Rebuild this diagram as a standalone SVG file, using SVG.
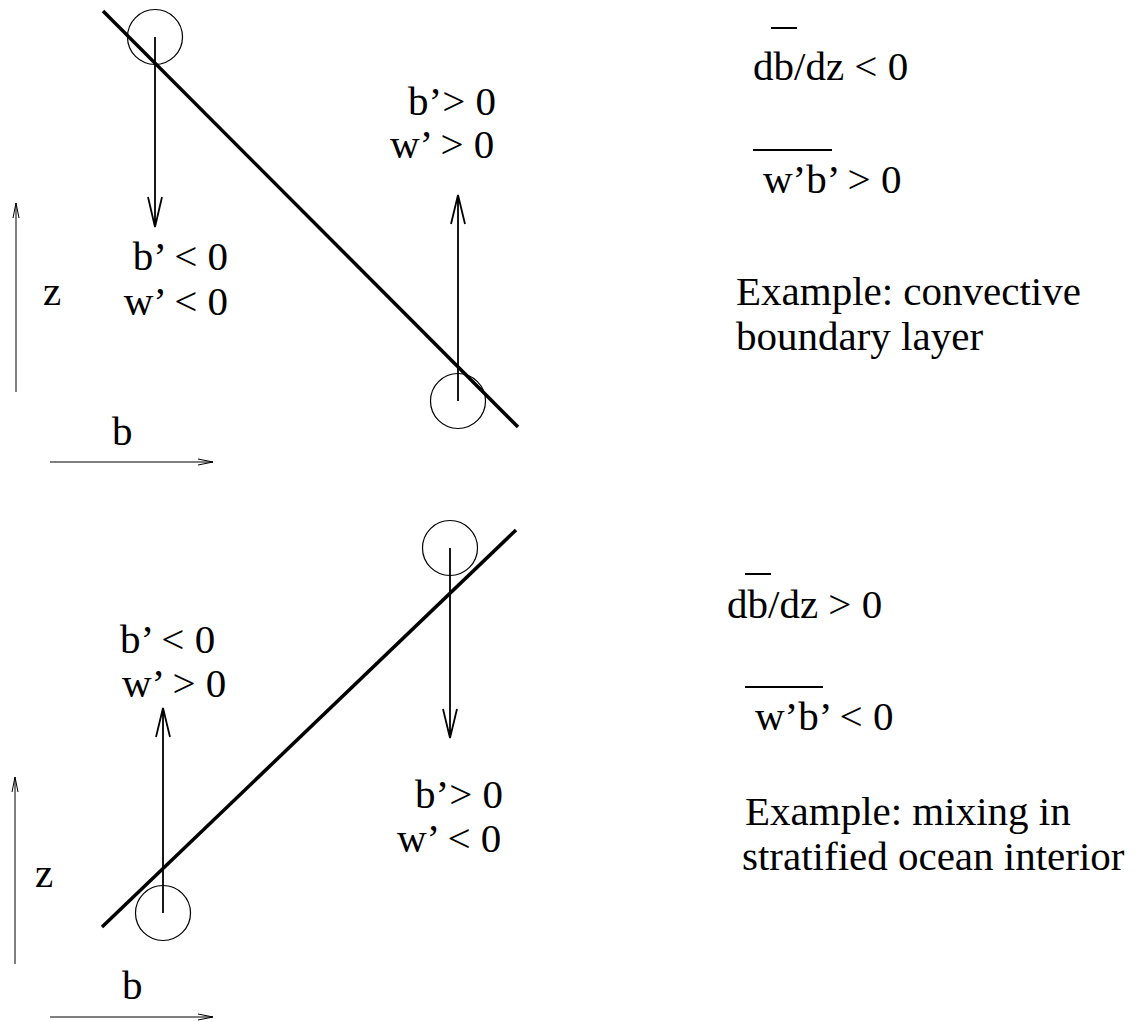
<svg xmlns="http://www.w3.org/2000/svg" width="1140" height="1022" viewBox="0 0 1140 1022">
<style>
text{font-family:"Liberation Serif","Times New Roman",serif;font-size:41px;fill:#000}
.thick{stroke:#000;stroke-width:3.5;fill:none}
.arr{stroke:#000;stroke-width:1.8;fill:none}
.ax{stroke:#000;stroke-width:1;fill:none}
.circ{stroke:#000;stroke-width:1.2;fill:none}
.bar{stroke:#000;stroke-width:2;fill:none}
</style>
<rect width="1140" height="1022" fill="#fff"/>
<g id="top-panel">
  <line class="thick" x1="103" y1="11" x2="518" y2="427"/>
  <circle class="circ" cx="155" cy="37" r="27.5"/>
  <circle class="circ" cx="458" cy="401" r="27.5"/>
</g>
<g id="connectors">
  <path class="arr" d="M155 37V227M148 197L155 227L162 197"/>
  <path class="arr" d="M458 401V195M451 224L458 195L465 224"/>
  <path class="ax" d="M16 392V203M13 218L16 203L19 218"/>
  <path class="ax" d="M50 462H213M198 459L213 462L198 465"/>
  <path class="arr" d="M450 548V738M443 709L450 738L457 709"/>
  <path class="arr" d="M163 913V708M156 737L163 708L170 737"/>
  <path class="ax" d="M15 964V777M12 792L15 777L18 792"/>
  <path class="ax" d="M50 1017H213M198 1014L213 1017L198 1020"/>
</g>
<g id="top-labels">
  <text x="228" y="270" text-anchor="end">b’ &lt; 0</text>
  <text x="228" y="315" text-anchor="end">w’ &lt; 0</text>
  <text x="43" y="305">z</text>
  <text x="112" y="445">b</text>
  <text x="408" y="115">b’&gt; 0</text>
  <text x="390" y="158">w’ &gt; 0</text>
</g>
<g id="top-right">
  <line class="bar" x1="771" y1="28" x2="797" y2="28"/>
  <text x="753" y="80">db/dz &lt; 0</text>
  <line class="bar" x1="753" y1="150" x2="832" y2="150"/>
  <text x="763" y="193">w’b’ &gt; 0</text>
  <text x="736" y="305">Example: convective</text>
  <text x="736" y="350">boundary layer</text>
</g>
<g id="bottom-panel">
  <line class="thick" x1="102" y1="927" x2="516" y2="530"/>
  <circle class="circ" cx="450" cy="548" r="27.5"/>
  <circle class="circ" cx="163" cy="913" r="27.5"/>
</g>
<g id="bottom-labels">
  <text x="120" y="653">b’ &lt; 0</text>
  <text x="122" y="697">w’ &gt; 0</text>
  <text x="415" y="808">b’&gt; 0</text>
  <text x="397" y="852">w’ &lt; 0</text>
  <text x="35" y="887">z</text>
  <text x="122" y="999">b</text>
</g>
<g id="bottom-right">
  <line class="bar" x1="745" y1="574" x2="771" y2="574"/>
  <text x="727" y="618">db/dz &gt; 0</text>
  <line class="bar" x1="745" y1="687" x2="823" y2="687"/>
  <text x="755" y="730">w’b’ &lt; 0</text>
  <text x="745" y="825">Example: mixing in</text>
  <text x="742" y="870">stratified ocean interior</text>
</g>
</svg>
